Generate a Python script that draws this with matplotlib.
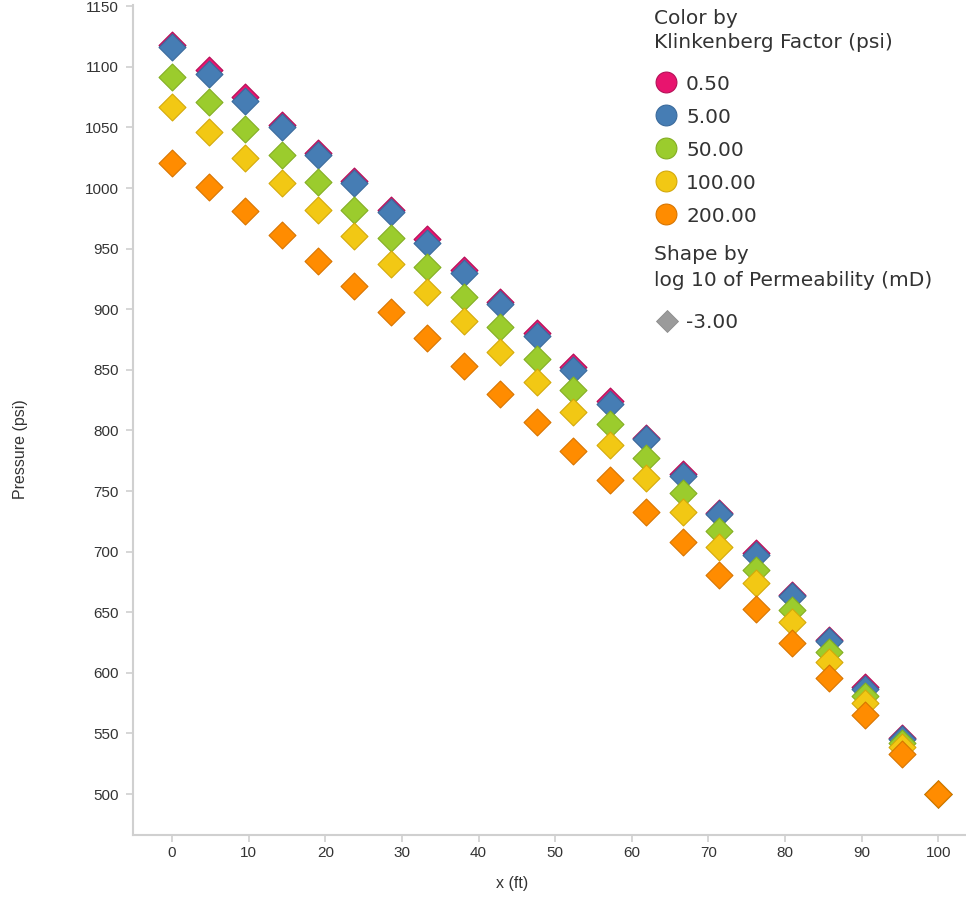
import matplotlib
matplotlib.use("Agg")
import matplotlib.pyplot as plt
from matplotlib.lines import Line2D

plt.rcParams["font.family"] = ["Liberation Sans", "DejaVu Sans"]

# Distance along the core (ft)
x_ft = [0.00, 4.76, 9.52, 14.29, 19.05, 23.81, 28.57, 33.33, 38.10, 42.86, 47.62,
        52.38, 57.14, 61.90, 66.67, 71.43, 76.19, 80.95, 85.71, 90.48, 95.24, 100.00]

# Klinkenberg factor categories (psi)
klinkenberg_labels = ["0.50", "5.00", "50.00", "100.00", "200.00"]

# Pressure profiles (psi), one per Klinkenberg factor
p_b0_5 = [1118, 1097, 1075, 1052, 1029, 1006, 982, 958, 932, 906, 880,
          852, 824, 794, 764, 732, 699, 664, 627, 588, 546, 500]
p_b5 = [1116, 1094, 1072, 1050, 1027, 1004, 980, 955, 930, 904, 878,
        850, 822, 793, 762, 731, 697, 663, 626, 587, 545, 500]
p_b50 = [1092, 1071, 1049, 1027, 1005, 982, 959, 935, 910, 885, 859,
         833, 805, 777, 748, 717, 685, 652, 617, 581, 542, 500]
p_b100 = [1067, 1046, 1025, 1004, 982, 960, 937, 914, 890, 865, 840,
          815, 788, 761, 733, 704, 674, 642, 609, 575, 539, 500]
p_b200 = [1021, 1001, 981, 961, 940, 919, 898, 876, 853, 830, 807,
          783, 759, 733, 708, 681, 653, 625, 596, 565, 533, 500]

# Shape category (log10 permeability, mD)
shape_label = "-3.00"

pressures = [p_b0_5, p_b5, p_b50, p_b100, p_b200]
face_colors = ["#E8146E", "#467DB4", "#9BCC2D", "#F2C814", "#FF8C00"]
edge_colors = ["#B50F57", "#3A6A9C", "#83AE22", "#D4A90A", "#D77500"]

W, H = 966, 900
fig = plt.figure(figsize=(W / 100, H / 100), dpi=100)
ax = fig.add_axes([133 / W, 65 / H, 832 / W, 830 / H])

for p, fc, ec in zip(pressures, face_colors, edge_colors):
    ax.scatter(x_ft, p, marker="D", s=188, c=fc, edgecolors=ec,
               linewidths=0.8, zorder=3)

ax.set_xlim(-5.1, 103.5)
ax.set_ylim(466.2, 1151)
ax.set_xticks(range(0, 101, 10))
ax.set_yticks(range(500, 1151, 50))

axis_grey = "#D0D0D0"
text_col = "#333333"
for side in ("top", "right"):
    ax.spines[side].set_visible(False)
for side in ("left", "bottom"):
    ax.spines[side].set_color(axis_grey)
    ax.spines[side].set_linewidth(1.5)
ax.tick_params(axis="both", colors=axis_grey, length=5, width=1.2,
               labelsize=11, labelcolor=text_col)
ax.tick_params(axis="y", pad=5.5)
ax.tick_params(axis="x", pad=3)

ax.set_xlabel("x (ft)", fontsize=11.5, color=text_col)
ax.xaxis.set_label_coords((512 - 133) / 832, (835 - 876) / 830)
ax.set_ylabel("Pressure (psi)", fontsize=11.5, color=text_col)
ax.yaxis.set_label_coords((28 - 133) / 832, (835 - 449) / 830)


def fx(px):
    return px / W


def fy(py):
    return 1 - py / H


# Legend: colour by Klinkenberg factor, shape by permeability
leg_font = dict(fontsize=14.5, color=text_col, va="baseline", family="DejaVu Sans")
tx = 654
fig.text(fx(tx), fy(24), "Color by", **leg_font)
fig.text(fx(tx), fy(48), "Klinkenberg Factor (psi)", **leg_font)

row0, step = 82.3, 33.0
for i, (lab, fc, ec) in enumerate(zip(klinkenberg_labels, face_colors, edge_colors)):
    cy = row0 + i * step
    fig.add_artist(Line2D([fx(666)], [fy(cy)], transform=fig.transFigure,
                          marker="o", markersize=15, markerfacecolor=fc,
                          markeredgecolor=ec, markeredgewidth=0.8, linestyle="none"))
    fig.text(fx(686), fy(cy + 7.4), lab, **leg_font)

fig.text(fx(tx), fy(260), "Shape by", **leg_font)
fig.text(fx(tx), fy(286.5), "log 10 of Permeability (mD)", **leg_font)
fig.add_artist(Line2D([fx(667)], [fy(321)], transform=fig.transFigure,
                      marker="D", markersize=11, markerfacecolor="#9B9B9B",
                      markeredgecolor="#8C8C8C", markeredgewidth=0.6, linestyle="none"))
fig.text(fx(686), fy(328.4), shape_label, **leg_font)

fig.savefig("out.png", dpi=100)
